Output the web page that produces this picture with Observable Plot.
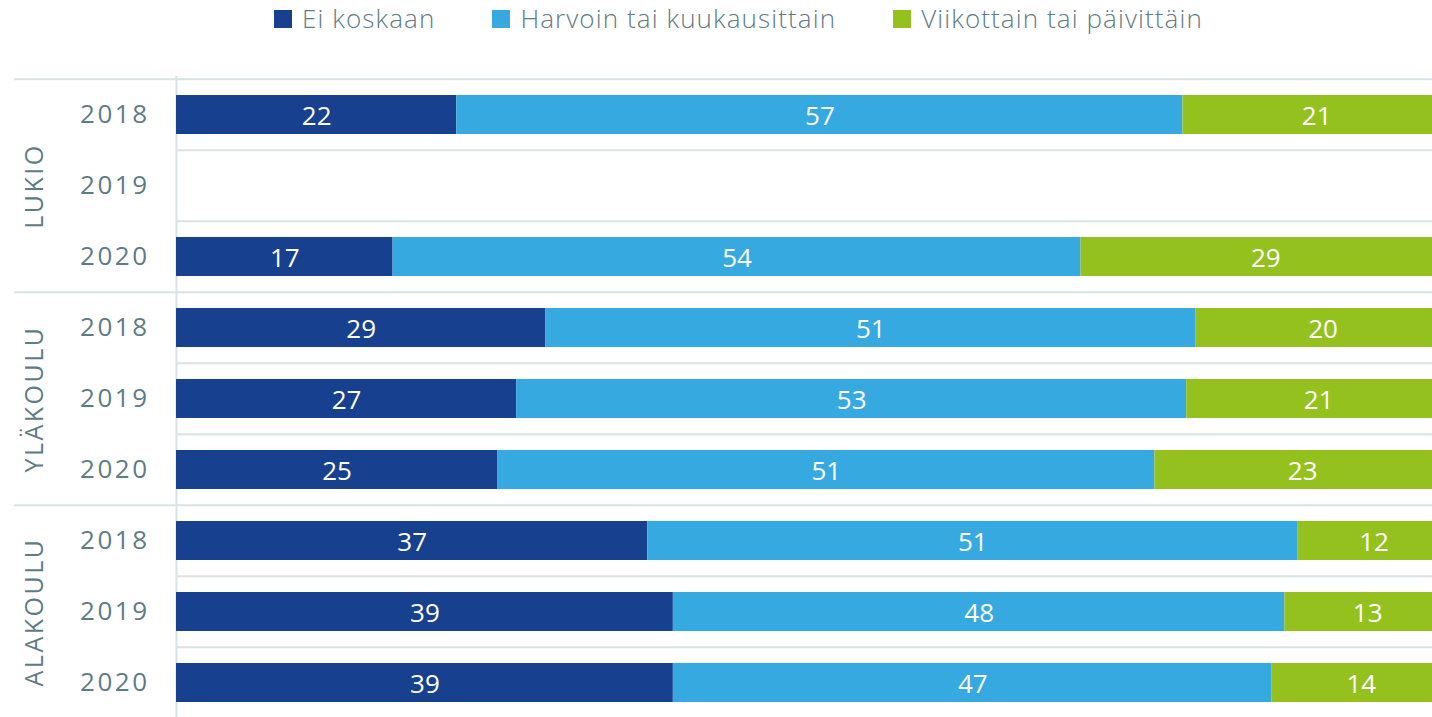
<!DOCTYPE html>
<html>
<head>
<meta charset="utf-8">
<script src="https://cdn.jsdelivr.net/npm/d3@7"></script>
<script src="https://cdn.jsdelivr.net/npm/@observablehq/plot@0.6"></script>
<style>
  html, body { margin: 0; padding: 0; background: #fff; overflow: hidden; }
  #legend { height: 75px; box-sizing: border-box; padding-left: 274px; overflow: hidden; }
  #legend .lg-swatches { margin: 0; }
  #legend .lg-swatch { margin-right: 57px; letter-spacing: 1.1px; }
  #legend .lg-swatch > svg { margin-right: 10px; margin-top: 2px; }
  #chart svg g[aria-label^="y-axis"] text { letter-spacing: 2.5px; }
</style>
</head>
<body>
<div id="legend"></div>
<div id="chart"></div>
<script>
// ---- data ----
const groups = ["LUKIO", "YLÄKOULU", "ALAKOULU"];
const years = ["2018", "2019", "2020"];
const categories = ["Ei koskaan", "Harvoin tai kuukausittain", "Viikottain tai päivittäin"];
const colors = ["#17408f", "#36a9e0", "#95c11f"];

// rows with data (LUKIO 2019 has no data)
const rowGroup = ["LUKIO", "LUKIO", "YLÄKOULU", "YLÄKOULU", "YLÄKOULU", "ALAKOULU", "ALAKOULU", "ALAKOULU"];
const rowYear  = ["2018", "2020", "2018", "2019", "2020", "2018", "2019", "2020"];
// shares (%)
const eiKoskaan   = [22, 17, 29, 26.7, 25.2, 37, 39, 39];
const harvoin     = [57, 54, 51, 52.6, 51.6, 51, 48, 47];
const viikoittain = [21, 29, 20, 20.7, 23.2, 12, 13, 14];
// printed labels
const eiKoskaanLabels   = [22, 17, 29, 27, 25, 37, 39, 39];
const harvoinLabels     = [57, 54, 51, 53, 51, 51, 48, 47];
const viikoittainLabels = [21, 29, 20, 21, 23, 12, 13, 14];

// ---- build tables ----
const keyOf = (g, y) => g + " " + y;
const seriesValues = [eiKoskaan, harvoin, viikoittain];
const seriesLabels = [eiKoskaanLabels, harvoinLabels, viikoittainLabels];
const data = [];
rowGroup.forEach((g, i) => {
  categories.forEach((c, j) => {
    data.push({key: keyOf(g, rowYear[i]), cat: c, value: seriesValues[j][i], label: String(seriesLabels[j][i])});
  });
});
const yDomain = groups.flatMap(g => years.map(y => keyOf(g, y)));
const rowsAll = yDomain.map((k, i) => ({
  key: k,
  first: i % years.length === 0,
  group: groups[Math.floor(i / years.length)],
  year: years[i % years.length]
}));

const H = 642, mTop = 1, mBottom = -3.5;
const bw = (H - mTop - mBottom) / yDomain.length;
const grid = "#dbe2e6";
const textColor = "#5f7b84";

// ---- legend ----
const legend = Plot.legend({
  legend: "swatches",
  color: {domain: categories, range: colors},
  swatchSize: 18,
  className: "lg",
  style: {fontFamily: "'Open Sans', sans-serif", fontSize: "26px", fontWeight: 300, color: textColor}
});
document.getElementById("legend").appendChild(legend);

// ---- chart ----
const chart = Plot.plot({
  width: 1432,
  height: H,
  marginTop: mTop,
  marginBottom: mBottom,
  marginLeft: 176,
  marginRight: -18,
  x: {domain: [0, 100], axis: null},
  y: {domain: yDomain, padding: 0, tickSize: 0, tickPadding: 27, tickFormat: k => k.split(" ")[1], label: null},
  color: {domain: categories, range: colors},
  style: {fontFamily: "'Open Sans', sans-serif", fontSize: "26px", color: textColor, background: "white"},
  marks: [
    Plot.ruleY(rowsAll.filter(d => !d.first), {y: "key", dy: -bw / 2, stroke: grid, strokeWidth: 2}),
    Plot.ruleY(rowsAll.filter(d => d.first), {y: "key", dy: -bw / 2, insetLeft: -162, stroke: grid, strokeWidth: 2}),
    Plot.ruleX([0], {stroke: grid, strokeWidth: 2}),
    Plot.barX(data, Plot.stackX({x: "value", y: "key", fill: "cat", z: "cat", insetTop: 16, insetBottom: 16})),
    Plot.text(data, Plot.stackX({x: "value", y: "key", z: "cat", text: "label", fill: "white", dy: 2, fontSize: 26})),
    Plot.text(rowsAll.filter(d => d.year === "2019"), {y: "key", text: "group", frameAnchor: "left", textAnchor: "middle", dx: -142, rotate: -90, fontSize: 25})
  ]
});
document.getElementById("chart").appendChild(chart);
const textGroups = chart.querySelectorAll('g[aria-label="text"]');
if (textGroups.length) textGroups[textGroups.length - 1].style.letterSpacing = "2.5px";
</script>
</body>
</html>
